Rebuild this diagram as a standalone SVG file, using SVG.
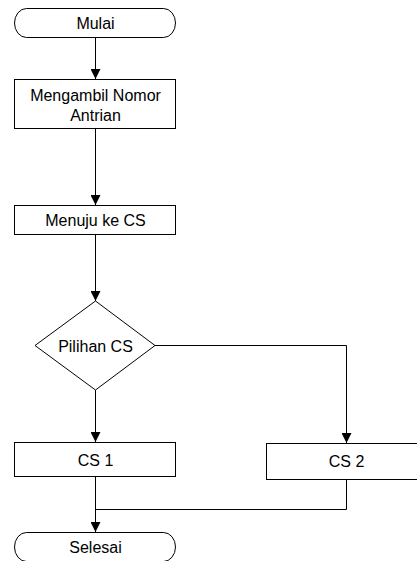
<svg xmlns="http://www.w3.org/2000/svg" width="417" height="561" viewBox="0 0 417 561">
  <style>
    .shape { fill: #ffffff; stroke: #000000; stroke-width: 1; }
    .link { fill: none; stroke: #000000; stroke-width: 1; }
    .label { font-family: "Liberation Sans", Arial, sans-serif; font-size: 16px; fill: #000000; text-anchor: middle; }
  </style>
  <defs>
    <marker id="arrow" viewBox="0 0 10 10" refX="10" refY="5" markerWidth="11" markerHeight="10" markerUnits="userSpaceOnUse" orient="auto">
      <path d="M0,0 L10,5 L0,10 Z" fill="#000000"/>
    </marker>
  </defs>
  <rect width="417" height="561" fill="#ffffff"/>

  <g id="connectors">
    <line class="link" x1="95.5" y1="38" x2="95.5" y2="79" marker-end="url(#arrow)"/>
    <line class="link" x1="95.5" y1="129" x2="95.5" y2="205" marker-end="url(#arrow)"/>
    <line class="link" x1="95.5" y1="235" x2="95.5" y2="301" marker-end="url(#arrow)"/>
    <line class="link" x1="95.5" y1="390" x2="95.5" y2="442" marker-end="url(#arrow)"/>
    <polyline class="link" points="155,345.5 346.5,345.5 346.5,443" marker-end="url(#arrow)"/>
    <line class="link" x1="95.5" y1="477" x2="95.5" y2="532" marker-end="url(#arrow)"/>
    <polyline class="link" points="346.5,480 346.5,509.5 95.5,509.5"/>
  </g>

  <g id="start">
    <rect class="shape" x="14.5" y="8.5" width="161" height="29" rx="12" ry="14.5"/>
    <text class="label" x="95.5" y="28.5">Mulai</text>
  </g>

  <g id="take-number">
    <rect class="shape" x="14.5" y="79.5" width="161" height="49"/>
    <text class="label" x="95.5" y="100.5">Mengambil Nomor</text>
    <text class="label" x="95.5" y="120.5">Antrian</text>
  </g>

  <g id="go-to-cs">
    <rect class="shape" x="14.5" y="205.5" width="161" height="29"/>
    <text class="label" x="95.5" y="225.5">Menuju ke CS</text>
  </g>

  <g id="choose-cs">
    <polygon class="shape" points="95.5,301 155,345.5 95.5,390 35,345.5"/>
    <text class="label" x="95.5" y="351.5">Pilihan CS</text>
  </g>

  <g id="cs1">
    <rect class="shape" x="14.5" y="442.5" width="161" height="34"/>
    <text class="label" x="95.5" y="465.5">CS 1</text>
  </g>

  <g id="cs2">
    <rect class="shape" x="266.5" y="443.5" width="161" height="36"/>
    <text class="label" x="346.5" y="467">CS 2</text>
  </g>

  <g id="finish">
    <rect class="shape" x="14.5" y="532.5" width="161" height="29" rx="12" ry="14.5"/>
    <text class="label" x="95.5" y="552.5">Selesai</text>
  </g>
</svg>
